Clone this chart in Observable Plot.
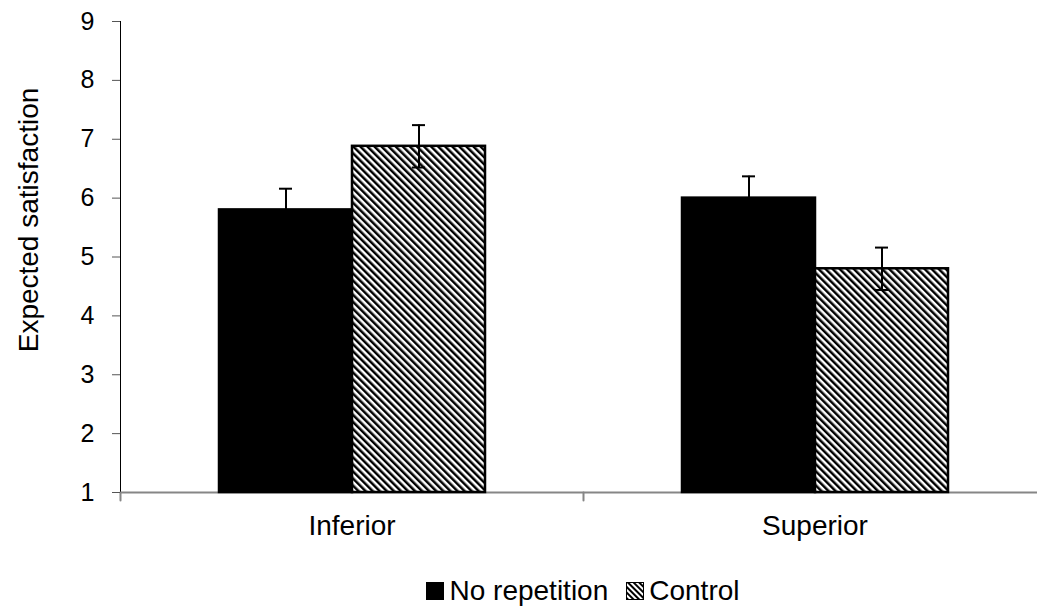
<!DOCTYPE html>
<html>
<head>
<meta charset="utf-8">
<script src="https://cdn.jsdelivr.net/npm/d3@7"></script>
<script src="https://cdn.jsdelivr.net/npm/@observablehq/plot@0.6"></script>
<style>
  html, body { margin: 0; padding: 0; background: #fff; overflow: hidden; }
  body { width: 1046px; font-family: "Liberation Sans", Arial, sans-serif; }
  #legend { padding-left: 120px; width: 926px; display: flex; justify-content: center; align-items: center; font-size: 28px; color: #000; margin-top: 33px; }
  .item { display: flex; align-items: center; }
  .sw { width: 18px; height: 18px; margin-right: 5px; box-sizing: border-box; }
</style>
</head>
<body>
<svg width="0" height="0" style="position:absolute">
  <defs>
    <pattern id="hatch" patternUnits="userSpaceOnUse" width="5" height="5" patternTransform="rotate(-45)">
      <rect width="5" height="5" fill="#fff"></rect>
      <rect width="2.5" height="5" fill="#000"></rect>
    </pattern>
    <pattern id="hatchSmall" patternUnits="userSpaceOnUse" width="4" height="4" patternTransform="rotate(-45)">
      <rect width="4" height="4" fill="#fff"></rect>
      <rect width="2" height="4" fill="#000"></rect>
    </pattern>
  </defs>
</svg>
<div id="chart"></div>
<div id="legend"></div>
<script>
const conditions = ["Inferior", "Superior"];
const groups = ["No repetition", "Control"];
const noRepetition = [5.8, 6.0];
const control = [6.88, 4.8];
const noRepetitionErr = [0.36, 0.37];
const controlErr = [0.36, 0.36];
const yTicks = [1, 2, 3, 4, 5, 6, 7, 8, 9];
const yLabel = "Expected satisfaction";

const rows = [];
conditions.forEach((c, i) => {
  rows.push({cond: c, group: groups[0], value: noRepetition[i], err: noRepetitionErr[i]});
  rows.push({cond: c, group: groups[1], value: control[i], err: controlErr[i]});
});

const tickShape = {draw(context, l) { context.moveTo(0, 0); context.lineTo(0, -l); }};

const chart = Plot.plot({
  width: 1046,
  height: 542,
  marginTop: 21,
  marginBottom: 50,
  marginLeft: 120,
  marginRight: 0,
  style: {fontFamily: "'Liberation Sans', Arial, sans-serif", background: "#fff", color: "#000"},
  fx: {domain: conditions, padding: 0, axis: null},
  x: {domain: groups, paddingInner: 0, paddingOuter: 0.7406, axis: null},
  y: {domain: [1, 9], axis: null},
  marks: [
    Plot.ruleY([1], {stroke: "#868686", strokeWidth: 2}),
    Plot.barY(rows.filter(d => d.group === groups[0]), {fx: "cond", x: "group", y1: 1, y2: "value", fill: "#000", stroke: "#000", strokeWidth: 2.5}),
    Plot.barY(rows.filter(d => d.group === groups[1]), {fx: "cond", x: "group", y1: 1, y2: "value", fill: "url(#hatch)", stroke: "#000", strokeWidth: 2.5}),
    Plot.ruleX(rows, {fx: "cond", x: "group", y1: d => d.value - d.err, y2: d => d.value + d.err, stroke: "#000", strokeWidth: 2}),
    Plot.tickY(rows, {fx: "cond", x: "group", y: d => d.value + d.err, stroke: "#000", strokeWidth: 2, insetLeft: 60, insetRight: 60}),
    Plot.tickY(rows, {fx: "cond", x: "group", y: d => d.value - d.err, stroke: "#000", strokeWidth: 2, insetLeft: 60, insetRight: 60}),
    Plot.frame({anchor: "left", facetAnchor: "left", stroke: "#000", strokeWidth: 1}),
    Plot.vector([0], {frameAnchor: "bottom-left", length: 8, rotate: 180, anchor: "start", shape: tickShape, stroke: "#868686", strokeWidth: 2}),
    Plot.vector([0], {frameAnchor: "bottom-right", facetAnchor: "right", length: 8, rotate: 180, anchor: "start", shape: tickShape, stroke: "#868686", strokeWidth: 2}),
    Plot.axisY({ticks: yTicks, tickSize: 8, tickPadding: 18, fontSize: 25, label: null, stroke: "#555"}),
    Plot.axisFx({anchor: "bottom", tickSize: 0, tickPadding: 23, fontSize: 28, label: null}),
    Plot.text([yLabel], {frameAnchor: "left", facetAnchor: "left", textAnchor: "middle", rotate: -90, dx: -91.5, dy: -37, fontSize: 28, fill: "#000"})
  ]
});
document.getElementById("chart").appendChild(chart);

const legend = document.getElementById("legend");
groups.forEach((label, i) => {
  const item = document.createElement("div");
  item.className = "item";
  if (i > 0) item.style.marginLeft = "18px";
  const sw = document.createElementNS("http://www.w3.org/2000/svg", "svg");
  sw.setAttribute("width", 18); sw.setAttribute("height", 18);
  sw.setAttribute("class", "sw");
  const r = document.createElementNS("http://www.w3.org/2000/svg", "rect");
  r.setAttribute("x", 0.5); r.setAttribute("y", 0.5); r.setAttribute("width", 17); r.setAttribute("height", 17);
  r.setAttribute("fill", i === 0 ? "#000" : "url(#hatchSmall)");
  r.setAttribute("stroke", "#000");
  sw.appendChild(r);
  item.appendChild(sw);
  const t = document.createElement("span");
  t.textContent = label;
  item.appendChild(t);
  legend.appendChild(item);
});
</script>
</body>
</html>
